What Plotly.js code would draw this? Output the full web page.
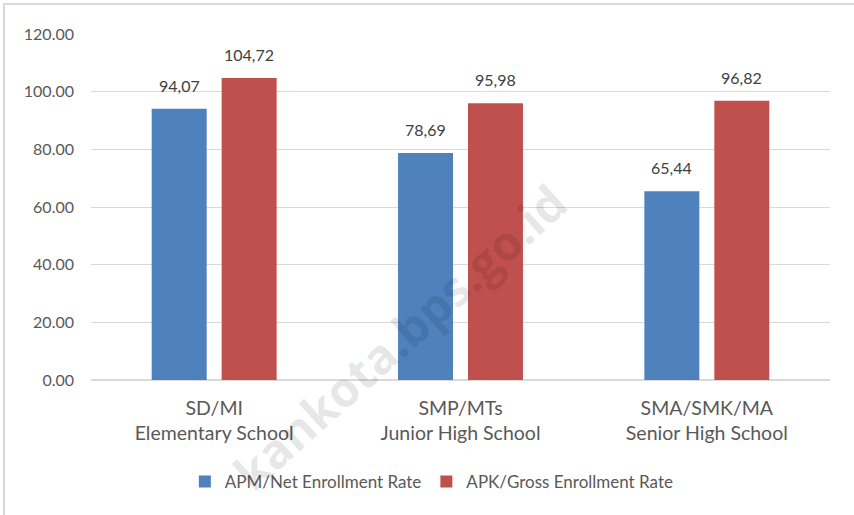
<!DOCTYPE html>
<html>
<head>
<meta charset="utf-8">
<script src="https://cdn.plot.ly/plotly-3.0.1.min.js"></script>
<style>html,body{margin:0;padding:0;background:#fff;}#chart{width:854px;height:515px;}</style>
</head>
<body>
<div id="chart"></div>
<script>
const categories = ["SD/MI<br>Elementary School", "SMP/MTs<br>Junior High School", "SMA/SMK/MA<br>Senior High School"];
const apmValues = [94.07, 78.69, 65.44];
const apkValues = [104.72, 95.98, 96.82];
const seriesNames = ["APM/Net Enrollment Rate", "APK/Gross Enrollment Rate"];
const yTicks = [0, 20, 40, 60, 80, 100, 120];
const yTickLabels = ["0.00", "20.00", "40.00", "60.00", "80.00", "100.00", "120.00"];

const fontFamily = "Lato, 'Open Sans', sans-serif";
const fmt = v => v.toFixed(2).replace('.', ',');

const traces = [
  {type: 'bar', name: seriesNames[0], x: categories, y: apmValues,
   marker: {color: '#4F81BD'}, hoverinfo: 'none'},
  {type: 'bar', name: seriesNames[1], x: categories, y: apkValues,
   marker: {color: '#C0504D'}, hoverinfo: 'none'}
];

const annotations = [];
[apmValues, apkValues].forEach((vals, si) => {
  vals.forEach((v, i) => {
    annotations.push({
      x: i + (si === 0 ? -0.142 : 0.142), y: v, xref: 'x', yref: 'y',
      text: fmt(v), showarrow: false, yanchor: 'bottom', yshift: 12,
      font: {family: fontFamily, size: 16, color: '#404040'}
    });
  });
});
annotations.push({
  xref: 'paper', yref: 'paper', x: 0.418, y: 0.125, xanchor: 'center', yanchor: 'middle',
  text: '<b>kankota.bps.go.id</b>', showarrow: false, textangle: -42,
  font: {family: "'Open Sans', sans-serif", size: 48, color: 'rgba(0,0,0,0.10)'}
});

const layout = {
  width: 854, height: 515,
  margin: {l: 91, r: 24, t: 34, b: 135},
  paper_bgcolor: '#fff', plot_bgcolor: '#fff',
  barmode: 'group', bargap: 0.432, bargroupgap: 0.214,
  showlegend: true,
  legend: {orientation: 'h', x: 0.127, xanchor: 'left', y: -0.295, yanchor: 'middle',
           itemwidth: 30,
           font: {family: fontFamily, size: 17, color: '#595959'}, itemclick: false},
  xaxis: {type: 'category', tickfont: {family: fontFamily, size: 19.5, color: '#595959'},
          showgrid: false, showline: false, zeroline: false, ticks: '', fixedrange: true,
          ticklabelstandoff: 14},
  yaxis: {range: [0, 120], tickvals: yTicks, ticktext: yTickLabels,
          tickfont: {family: fontFamily, size: 16, color: '#595959'},
          showgrid: true, gridcolor: '#d9d9d9', gridwidth: 1,
          zeroline: true, zerolinecolor: '#d9d9d9', zerolinewidth: 1.5,
          showline: false, ticks: '', ticklabelstandoff: 16, fixedrange: true},
  annotations: annotations,
  shapes: [{type: 'rect', xref: 'paper', yref: 'paper',
            x0: -0.1177, x1: 2, y0: -2, y1: 1.0867,
            line: {color: '#d9d9d9', width: 2}, fillcolor: 'rgba(0,0,0,0)', layer: 'below'}]
};

Plotly.newPlot('chart', traces, layout, {displayModeBar: false, staticPlot: true});
</script>
</body>
</html>
